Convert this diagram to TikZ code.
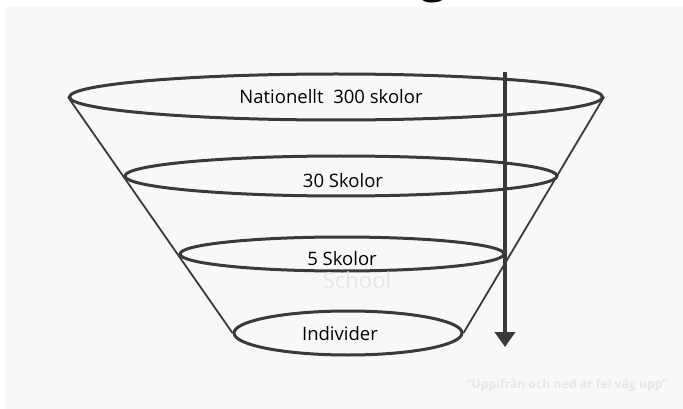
\documentclass[tikz,border=0pt]{standalone}
\usepackage{fontspec}
\setmainfont{Open Sans}
\usetikzlibrary{shapes.geometric,arrows.meta}
\definecolor{bgc}{HTML}{F8F8F8}
\definecolor{ink}{HTML}{3A3A3A}
\definecolor{faint}{HTML}{E6E6E6}
\tikzset{
  ring/.style={ellipse, draw=ink, line width=3pt, inner sep=0pt},
  cone/.style={draw=ink, line width=1.8pt},
  lbl/.style={font=\fontsize{18.5}{22}\selectfont, text=black, inner sep=0pt},
  ghost/.style={text=faint, inner sep=0pt},
}
\begin{document}
\begin{tikzpicture}[x=1pt,y=-1pt]
\useasboundingbox (0,0) rectangle (683,409);
\fill[white] (0,0) rectangle (683,409);
\fill[bgc] (6,7) rectangle (683,409);
% cut-off title letter
\node[anchor=base, font=\fontsize{52}{60}\selectfont, inner sep=0pt] (title) at (434,-9) {g};
% rings
\node[ring, minimum width=533pt, minimum height=46pt] (e1) at (336,97) {};
\node[ring, minimum width=432pt, minimum height=40pt] (e2) at (341,176) {};
\node[ring, minimum width=324pt, minimum height=34pt] (e3) at (342,254) {};
\node[ring, minimum width=228pt, minimum height=44pt] (e4) at (348,333) {};
% cone sides
\draw[cone] (e1.west) -- (e4.west);
\draw[cone] (e1.east) -- (e4.east);
% ghost text
\node[ghost, font=\fontsize{22}{26}\selectfont] (school) at (357,280) {School};
\node[ghost, font=\fontsize{12.2}{15}\selectfont\bfseries, anchor=east] (quote) at (668,385) {“Uppifrån och ned är fel väg upp”};
% labels
\node[lbl] (t1) at (331,97) {Nationellt\ \ 300 skolor};
\node[lbl] (t2) at (343,181) {30 Skolor};
\node[lbl] (t3) at (342,259) {5 Skolor};
\node[lbl] (t4) at (340,334) {Individer};
% arrow
\coordinate (a1) at (505,72);
\coordinate (a2) at (505,347);
\draw[draw=ink, line width=4.5pt, -{Triangle[width=20pt,length=15pt]}] (a1) -- (a2);
\end{tikzpicture}
\end{document}
